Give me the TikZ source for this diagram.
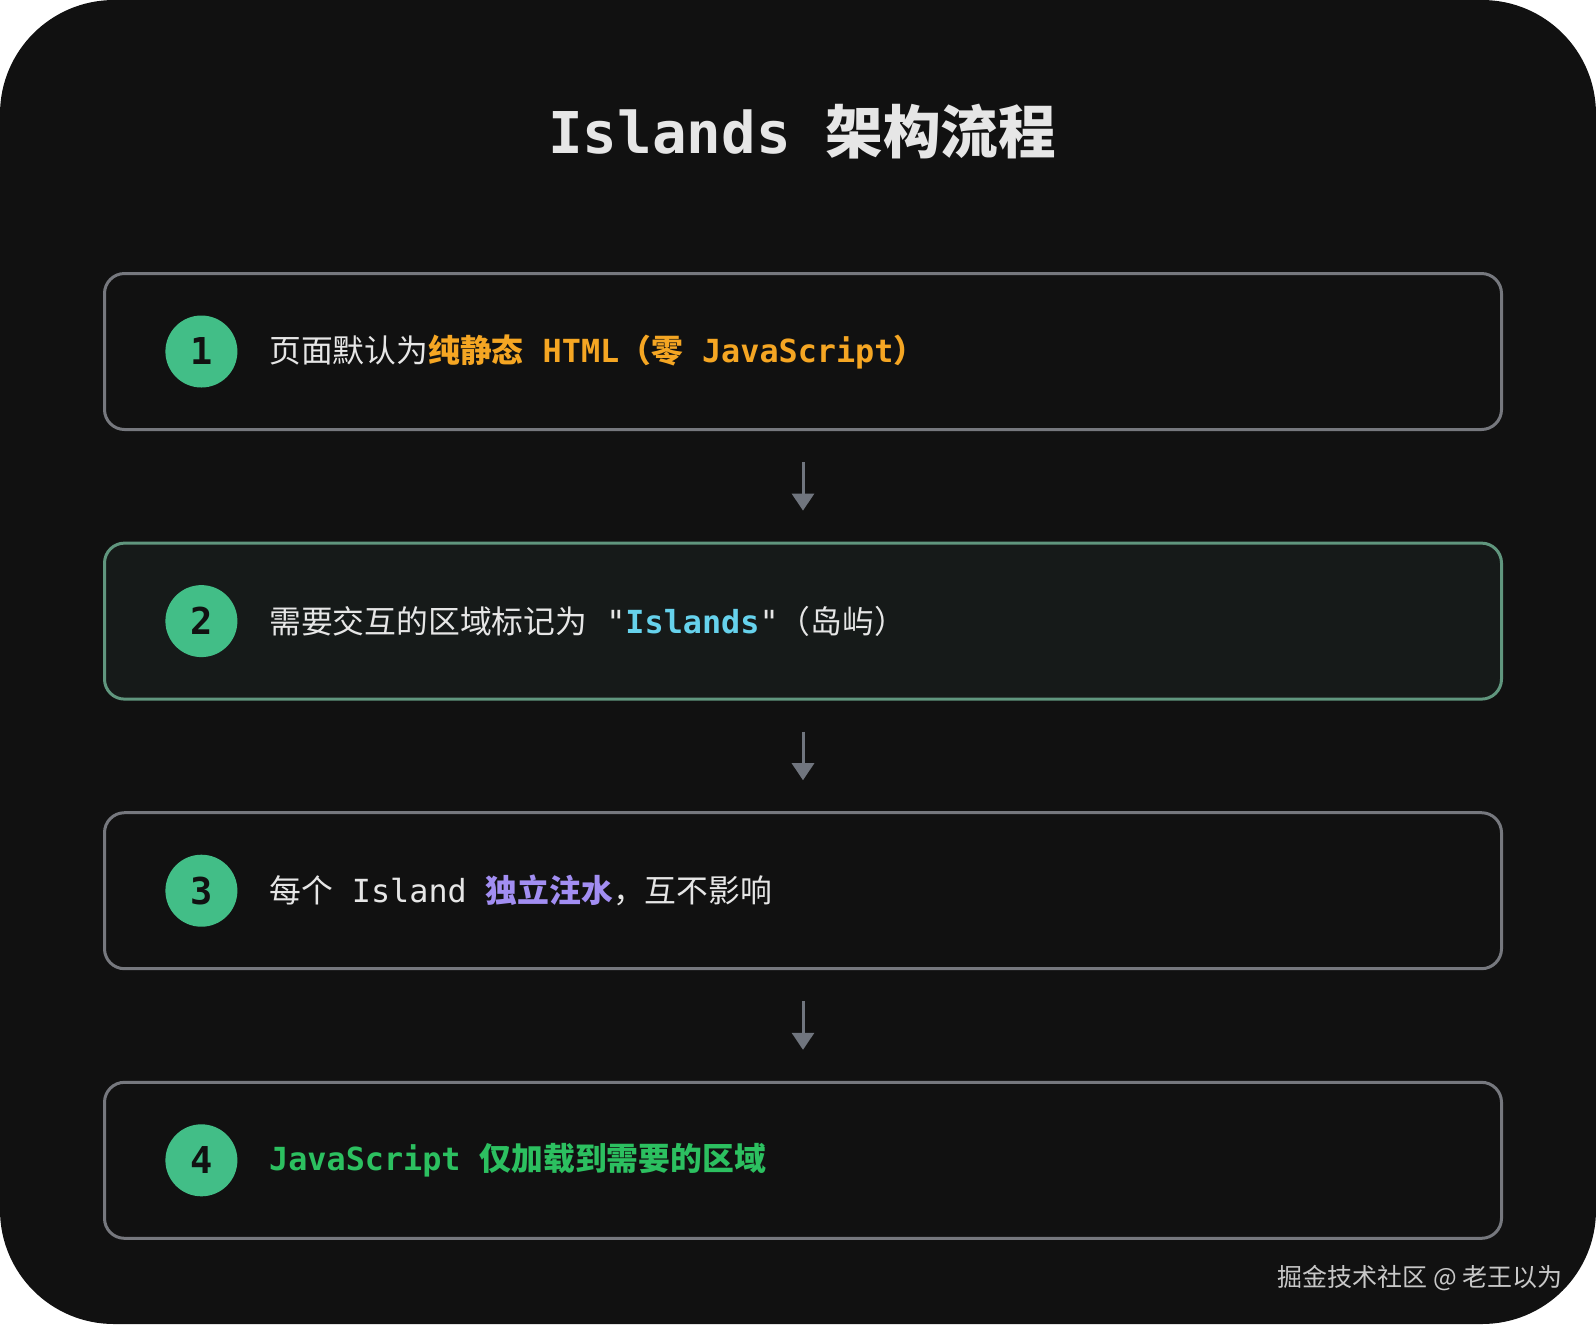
\documentclass[tikz,border=0pt]{standalone}
\usepackage{fontspec}
\setmonofont{DejaVu Sans Mono}
\newfontfamily\cjk{Noto Sans CJK SC}
\usetikzlibrary{arrows.meta,positioning}
\definecolor{bgdark}{RGB}{17,17,17}
\definecolor{boxgray}{RGB}{118,120,126}
\definecolor{hlgreen}{RGB}{96,150,126}
\definecolor{hlfill}{RGB}{22,26,25}
\definecolor{numgreen}{RGB}{66,190,135}
\definecolor{txtlight}{RGB}{230,230,230}
\definecolor{htmlorange}{RGB}{245,166,35}
\definecolor{islcyan}{RGB}{102,210,236}
\definecolor{hydpurple}{RGB}{162,142,242}
\definecolor{jsgreen}{RGB}{44,192,96}
\definecolor{arrowgray}{RGB}{112,117,126}
\definecolor{markgray}{RGB}{200,200,200}
\tikzset{
  ibox/.style={draw=boxgray,line width=1.5pt,fill=bgdark,rounded corners=10pt,minimum width=698.5pt,minimum height=78pt},
  iboxhl/.style={ibox,draw=hlgreen,fill=hlfill},
  inum/.style={circle,fill=numgreen,minimum size=36pt,inner sep=0pt,text=bgdark,font=\ttfamily\bfseries\fontsize{18.5}{19}\selectfont},
  itext/.style={inner sep=0pt,anchor=west,text=txtlight,font=\cjk\fontsize{15.9}{18}\selectfont},
  iarrow/.style={line width=1.5pt,arrowgray,-{Triangle[width=11pt,length=8.5pt]}},
  ititle/.style={text=txtlight,font=\cjk\bfseries\fontsize{28.8}{32}\selectfont},
  imark/.style={text=markgray,anchor=east,inner sep=0pt,font=\cjk\fontsize{12.5}{14}\selectfont},
}

\begin{document}
\begin{tikzpicture}[x=0.5pt,y=-0.5pt]
% page with dark rounded card
\fill[white] (0,0) rectangle (1596,1324);
\useasboundingbox (0,0) rectangle (1596,1324);
\fill[bgdark,rounded corners=57pt] (0,0) rectangle (1596,1324);
\node[ititle] (title) at (802,132) {{\ttfamily Islands\ }架构流程};
% the four steps
\node[ibox] (s1) at (803,351.5) {};
\node[iboxhl,below=55.3pt of s1] (s2) {};
\node[ibox,below=55.3pt of s2] (s3) {};
\node[ibox,below=55.3pt of s3] (s4) {};
\foreach \s in {1,2,3,4}{
  \node[inum,right=31pt of s\s.west] (n\s) {\s};}
\node[itext,right=15.5pt of n1] (t1) {页面默认为{\color{htmlorange}\bfseries 纯静态{\ttfamily\ HTML}（零{\ttfamily\ JavaScript}）}};
\node[itext,right=15.5pt of n2] (t2) {需要交互的区域标记为{\ttfamily\ "{\color{islcyan}\bfseries Islands}"}（岛屿）};
\node[itext,right=15.5pt of n3] (t3) {每个{\ttfamily\ Island\ }{\color{hydpurple}\bfseries 独立注水}，互不影响};
\node[itext,right=15.5pt of n4] (t4) {{\color{jsgreen}\bfseries{\ttfamily JavaScript\ }仅加载到需要的区域}};
% arrows between steps
\foreach \a/\b in {s1/s2,s2/s3,s3/s4}{
  \draw[iarrow] ([yshift=-15.5pt]\a.south) -- ([yshift=15.5pt]\b.north);}
\node[imark] (mark) at (1563,1278) {掘金技术社区 @ 老王以为};
\end{tikzpicture}
\end{document}
